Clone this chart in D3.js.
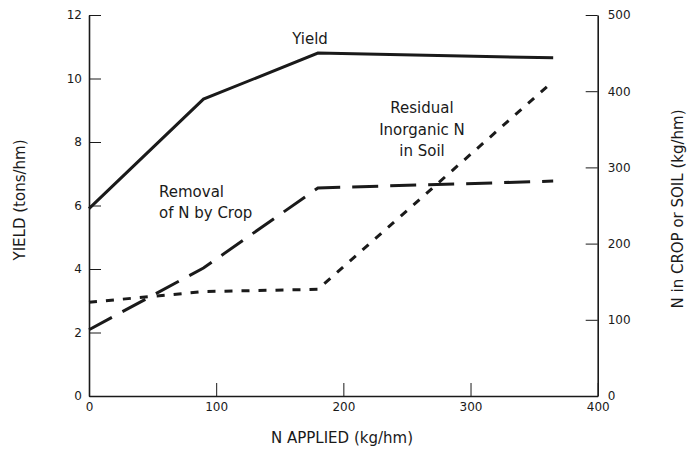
<!DOCTYPE html>
<html>
<head>
<meta charset="utf-8">
<script src="https://cdnjs.cloudflare.com/ajax/libs/d3/7.8.5/d3.min.js"></script>
<style>
  body { margin: 0; background: #fff; }
  text { font-family: "DejaVu Sans", sans-serif; fill: #1a1a1a; }
</style>
</head>
<body>
<svg id="chart" width="699" height="455"></svg>
<script>
// N applied (kg/hm) at the bends of each curve
var nApplied = [0, 90, 180, 365];
// yield, tons/hm (left axis)
var yieldVals = [5.9, 9.35, 10.8, 10.65];
// N removed by crop, kg/hm (right axis)
var removalVals = [87, 168, 273, 282];
// residual inorganic N in soil, kg/hm (right axis)
var residualVals = [123, 137, 140, 413];

var xTicks = [0, 100, 200, 300, 400];
var yLeftTicks = [0, 2, 4, 6, 8, 10, 12];
var yRightTicks = [0, 100, 200, 300, 400, 500];

var svg = d3.select("#chart");

var x = d3.scaleLinear().domain([0, 400]).range([89, 597.7]);
var yL = d3.scaleLinear().domain([0, 12]).range([396, 15]);
var yR = d3.scaleLinear().domain([0, 500]).range([396, 15]);

function styleAxis(g) {
  g.select(".domain").attr("stroke", "#1a1a1a").attr("stroke-width", 1.6);
  g.selectAll(".tick line").attr("stroke", "#1a1a1a").attr("stroke-width", 1);
  g.selectAll(".tick text").style("font-size", "12px")
    .style("font-family", "'DejaVu Sans', sans-serif").attr("fill", "#1a1a1a");
}

svg.append("g")
  .attr("transform", "translate(0,396)")
  .call(d3.axisBottom(x).tickValues(xTicks).tickSizeInner(-13).tickSizeOuter(0).tickPadding(6))
  .call(styleAxis);

svg.append("g")
  .attr("transform", "translate(89,0)")
  .call(d3.axisLeft(yL).tickValues(yLeftTicks).tickSizeInner(-12).tickSizeOuter(0).tickPadding(7))
  .call(styleAxis);

svg.append("g")
  .attr("transform", "translate(597.7,0)")
  .call(d3.axisRight(yR).tickValues(yRightTicks).tickSizeInner(-12).tickSizeOuter(0).tickPadding(10))
  .call(styleAxis);

var lineL = d3.line().x(function(d) { return x(d[0]); }).y(function(d) { return yL(d[1]); });
var lineR = d3.line().x(function(d) { return x(d[0]); }).y(function(d) { return yR(d[1]); });

svg.append("path")
  .datum(d3.zip(nApplied, yieldVals))
  .attr("d", lineL)
  .attr("fill", "none").attr("stroke", "#1a1a1a").attr("stroke-width", 3);

svg.append("path")
  .datum(d3.zip(nApplied, removalVals))
  .attr("d", lineR)
  .attr("fill", "none").attr("stroke", "#1a1a1a").attr("stroke-width", 3)
  .attr("stroke-dasharray", "26,12");

svg.append("path")
  .datum(d3.zip(nApplied, residualVals))
  .attr("d", lineR)
  .attr("fill", "none").attr("stroke", "#1a1a1a").attr("stroke-width", 3)
  .attr("stroke-dasharray", "8,9");

// curve labels
svg.append("text").attr("x", 310).attr("y", 44).attr("text-anchor", "middle")
  .style("font-size", "15px").text("Yield");

svg.append("text").attr("x", 159).attr("y", 197).style("font-size", "15px").text("Removal");
svg.append("text").attr("x", 159).attr("y", 218).style("font-size", "15px").text("of N by Crop");

svg.append("text").attr("x", 422).attr("y", 113).attr("text-anchor", "middle")
  .style("font-size", "15px").text("Residual");
svg.append("text").attr("x", 422).attr("y", 135).attr("text-anchor", "middle")
  .style("font-size", "15px").text("Inorganic N");
svg.append("text").attr("x", 422).attr("y", 156).attr("text-anchor", "middle")
  .style("font-size", "15px").text("in Soil");

// axis titles
svg.append("text").attr("x", 342).attr("y", 443).attr("text-anchor", "middle")
  .style("font-size", "15px").text("N APPLIED (kg/hm)");

svg.append("text").attr("transform", "translate(25,200) rotate(-90)")
  .attr("text-anchor", "middle").style("font-size", "15px").text("YIELD (tons/hm)");

svg.append("text").attr("transform", "translate(683,209) rotate(-90)")
  .attr("text-anchor", "middle").style("font-size", "15px").text("N in CROP or SOIL (kg/hm)");
</script>
</body>
</html>
